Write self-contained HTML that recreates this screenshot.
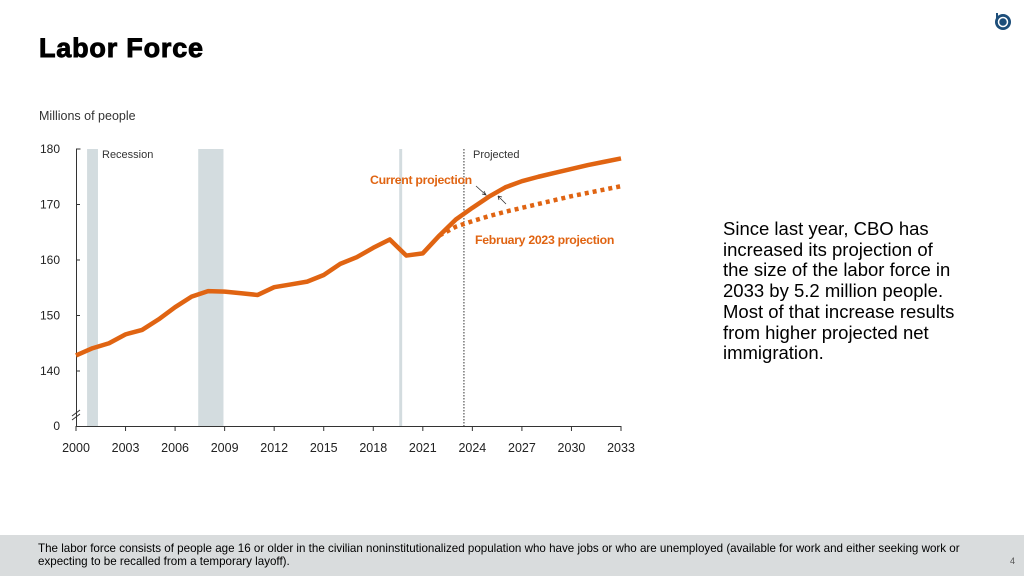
<!DOCTYPE html>
<html><head><meta charset="utf-8"><style>
body{margin:0;width:1024px;height:576px;position:relative;background:#fff;font-family:"Liberation Sans",sans-serif;overflow:hidden}
.t{position:absolute}
</style></head><body>
<div class="t" style="left:39px;top:33px;font-size:27px;font-weight:bold;-webkit-text-stroke:0.9px #000;letter-spacing:0.8px">Labor Force</div>
<svg class="t" style="left:993px;top:12px" width="20" height="20" viewBox="0 0 20 20"><circle cx="10" cy="10" r="8" fill="#1d4e7a"/><circle cx="10" cy="10" r="4.5" fill="none" stroke="#fff" stroke-width="1.5"/><rect x="3" y="1" width="2" height="8" fill="#1d4e7a"/></svg>
<div class="t" style="left:723px;top:219px;font-size:18.5px;line-height:20.7px;color:#000">Since last year, CBO has<br>increased its projection of<br>the size of the labor force in<br>2033 by 5.2 million people.<br>Most of that increase results<br>from higher projected net<br>immigration.</div>
<div class="t" style="left:0;top:535px;width:1024px;height:41px;background:#d9dcdd"></div>
<div class="t" style="left:38px;top:543px;font-size:11.6px;line-height:12.5px;color:#000">The labor force consists of people age 16 or older in the civilian noninstitutionalized population who have jobs or who are unemployed (available for work and either seeking work or<br>expecting to be recalled from a temporary layoff).</div>
<div class="t" style="left:1010px;top:556px;font-size:9px;color:#555">4</div>
<svg id="chart" class="t" style="left:0;top:0" width="1024" height="576"></svg>
<script>
const years=[2000,2001,2002,2003,2004,2005,2006,2007,2008,2009,2010,2011,2012,2013,2014,2015,2016,2017,2018,2019,2020,2021,2022,2023,2024,2025,2026,2027,2028,2029,2030,2031,2032,2033];
const current=[142.8,144.1,145.0,146.6,147.4,149.3,151.5,153.4,154.4,154.3,154.0,153.7,155.1,155.6,156.1,157.3,159.3,160.5,162.2,163.7,160.8,161.2,164.4,167.3,169.4,171.4,173.1,174.2,175.0,175.7,176.4,177.1,177.7,178.3];
const febYears=[2022,2023,2024,2025,2026,2027,2028,2029,2030,2031,2032,2033];
const feb2023=[164.4,166.0,167.0,167.9,168.7,169.4,170.1,170.8,171.5,172.1,172.7,173.3];
const yTicks=[140,150,160,170,180];
const xTicks=[2000,2003,2006,2009,2012,2015,2018,2021,2024,2027,2030,2033];
const recessions=[[2000.67,2001.33],[2007.4,2008.93],[2019.57,2019.75]];
const projectedStart=2023.49;
const svg=document.getElementById('chart');const NS='http://www.w3.org/2000/svg';
const X=y=>76+(y-2000)*(621-76)/33;
const Y=v=>149+(180-v)*(371-149)/40;
function mk(t,a){const e=document.createElementNS(NS,t);for(const k in a)e.setAttribute(k,a[k]);svg.appendChild(e);return e;}
recessions.forEach(r=>{const e=mk('rect',{x:X(r[0]),y:149,width:X(r[1])-X(r[0]),height:426-149,fill:'#d3dcdf'});

});
let e=mk('line',{x1:X(projectedStart),x2:X(projectedStart),y1:149,y2:426,stroke:'#333','stroke-width':1,'stroke-dasharray':'1.5,1.5'});


e=mk('path',{d:'M76.5,149V426M76.5,149h4',stroke:'#333',fill:'none','stroke-width':1});


yTicks.forEach(v=>{let l=mk('line',{x1:76,x2:80,y1:Y(v),y2:Y(v),stroke:'#333'});


let t=mk('text',{x:60,y:Y(v)+4,'text-anchor':'end','font-size':12,fill:'#222','font-family':'Liberation Sans'});t.textContent=v;

});
let z=mk('text',{x:60,y:430,'text-anchor':'end','font-size':12,fill:'#222','font-family':'Liberation Sans'});z.textContent='0';


e=mk('path',{d:'M72,416l8,-6M72,420l8,-6',stroke:'#333',fill:'none'});


e=mk('line',{x1:76,x2:621,y1:426.5,y2:426.5,stroke:'#333'});


xTicks.forEach(v=>{let l=mk('line',{x1:X(v),x2:X(v),y1:426,y2:431,stroke:'#333'});


let t=mk('text',{x:X(v),y:452,'text-anchor':'middle','font-size':12.5,fill:'#222','font-family':'Liberation Sans'});t.textContent=v;

});
e=mk('path',{d:'M'+febYears.map((y,i)=>X(y)+','+Y(feb2023[i])).join('L'),stroke:'#e06412','stroke-width':4.5,fill:'none','stroke-dasharray':'4,4'});


e=mk('path',{d:'M'+years.map((y,i)=>X(y)+','+Y(current[i])).join('L'),stroke:'#e06412','stroke-width':4.5,fill:'none','stroke-linejoin':'round'});


const labs=[['Recession',102,158,'#333','normal','recession-label',11],['Projected',473,158,'#333','normal','projected-label',11],['Current projection',370,184,'#e06412','bold','current-projection-label',12.3],['February 2023 projection',475,244,'#e06412','bold','feb-2023-projection-label',12.3],['Millions of people',39,120,'#333','normal','y-axis-title',12.5]];
labs.forEach(a=>{let t=mk('text',{x:a[1],y:a[2],'font-size':a[6],fill:a[3],'font-weight':a[4],'font-family':'Liberation Sans','letter-spacing':a[4]=='bold'?'-0.3':'0'});t.textContent=a[0];

});
e=mk('path',{d:'M476,186L486,195M484,191l2,4l-4,-1M498,196L506,204M498,196l1,4M498,196l4,1',stroke:'#333',fill:'none','stroke-width':0.8});


</script>
</body></html>
